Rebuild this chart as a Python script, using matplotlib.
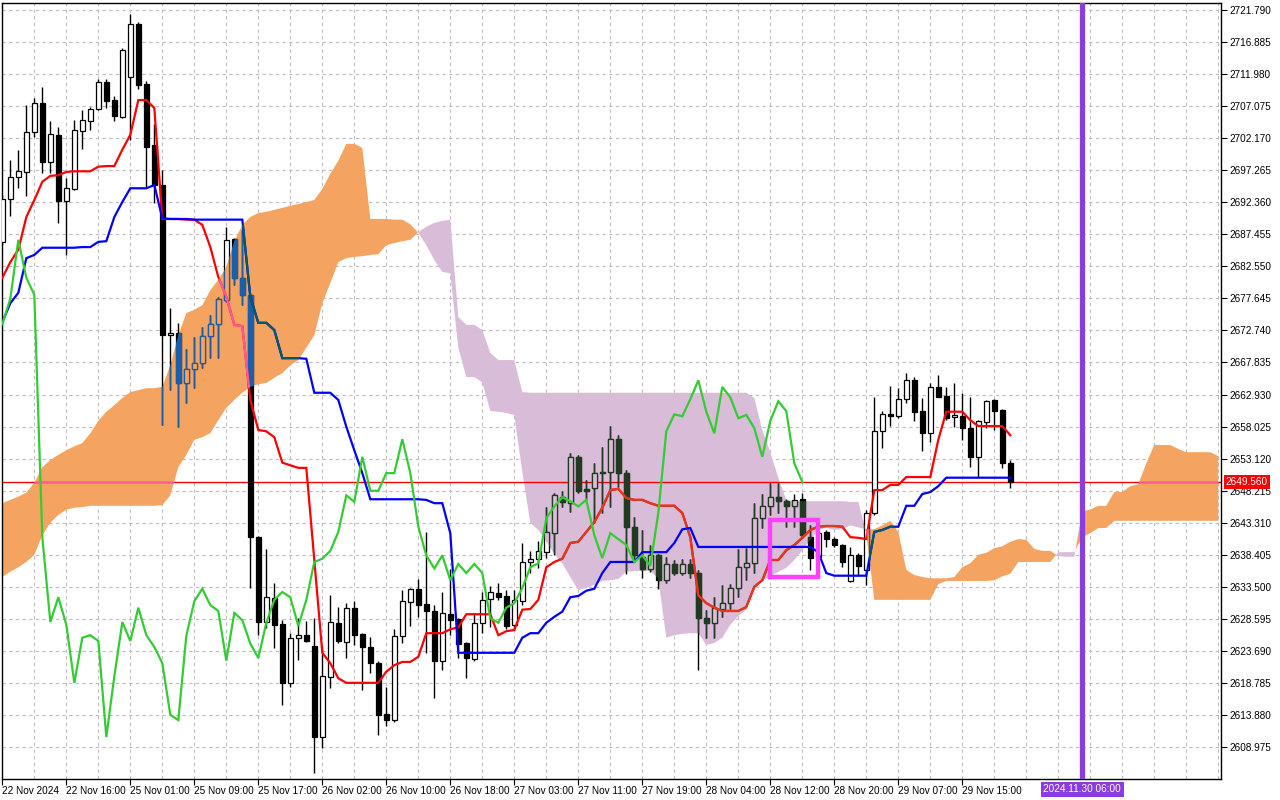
import numpy as np
import matplotlib
matplotlib.use("Agg")
import matplotlib.pyplot as plt
import matplotlib.transforms as mtransforms
from matplotlib.path import Path

# hourly XAUUSD candles, bar 0 = 22 Nov 2024 08:00
opens = [
    2686.3, 2692.9, 2696.2, 2697.0, 2703.1, 2707.5, 2698.5, 2702.6, 2692.6, 2694.4,
    2703.3, 2704.8, 2706.6, 2710.8, 2708.0, 2705.4, 2711.5, 2719.7, 2710.5, 2701.1,
    2695.0, 2672.0, 2672.4, 2664.7, 2666.8, 2667.8, 2671.9, 2673.7, 2677.4, 2686.7,
    2680.8, 2678.2, 2641.1, 2628.1, 2631.8, 2627.8, 2618.8, 2625.7, 2626.1, 2624.4,
    2610.5, 2619.7, 2628.0, 2625.1, 2630.3, 2626.3, 2624.3, 2621.9, 2614.0, 2613.1,
    2625.9, 2631.2, 2633.2, 2630.9, 2629.8, 2622.2, 2629.3, 2628.6, 2624.9, 2622.4,
    2628.0, 2631.6, 2632.6, 2632.1, 2627.7, 2631.3, 2637.3, 2637.8, 2638.8, 2641.7,
    2647.2, 2646.3, 2653.4, 2648.5, 2648.6, 2651.1, 2651.1, 2656.1, 2650.9, 2642.7,
    2638.0, 2636.3, 2638.3, 2634.5, 2637.0, 2635.6, 2637.0, 2635.6, 2628.7, 2628.0,
    2630.1, 2631.0, 2633.3, 2636.5, 2637.1, 2644.0, 2645.8, 2647.2, 2646.6, 2645.8,
    2646.9, 2641.1, 2638.1, 2641.9, 2640.8, 2639.9, 2634.4, 2638.3, 2636.1, 2644.8,
    2657.3, 2659.9, 2659.6, 2662.2, 2665.1, 2660.4, 2657.0, 2664.1, 2662.7, 2659.5,
    2659.6, 2657.8, 2653.4, 2658.7, 2662.1, 2660.6, 2652.4,
]
highs = [
    2693.5, 2698.8, 2700.4, 2707.2, 2708.3, 2710.0, 2704.8, 2703.9, 2696.1, 2705.0,
    2706.5, 2706.9, 2711.2, 2711.2, 2708.6, 2716.0, 2721.2, 2720.0, 2710.9, 2704.3,
    2697.3, 2676.2, 2673.9, 2669.9, 2671.7, 2673.3, 2675.1, 2677.9, 2688.6, 2686.9,
    2688.1, 2678.5, 2641.3, 2639.3, 2634.1, 2628.4, 2626.4, 2628.7, 2628.3, 2628.7,
    2624.4, 2632.2, 2630.4, 2631.0, 2631.3, 2626.4, 2625.8, 2622.1, 2618.2, 2627.0,
    2633.0, 2633.3, 2634.7, 2641.9, 2630.7, 2632.7, 2636.2, 2628.7, 2625.1, 2629.5,
    2632.7, 2633.6, 2634.1, 2633.0, 2633.0, 2640.2, 2639.0, 2640.5, 2645.7, 2647.9,
    2648.2, 2654.0, 2653.7, 2649.8, 2652.4, 2654.9, 2658.1, 2656.7, 2651.4, 2644.2,
    2642.2, 2639.9, 2638.5, 2638.0, 2637.6, 2637.8, 2637.8, 2636.1, 2629.9, 2631.9,
    2633.8, 2633.9, 2639.3, 2639.4, 2646.3, 2647.7, 2649.4, 2649.4, 2646.9, 2647.7,
    2647.9, 2642.9, 2642.2, 2642.2, 2641.1, 2640.1, 2639.6, 2638.6, 2645.3, 2662.5,
    2660.4, 2664.2, 2663.9, 2666.2, 2665.6, 2662.4, 2664.7, 2665.9, 2664.1, 2664.7,
    2663.2, 2662.5, 2659.0, 2662.1, 2662.2, 2660.7, 2652.9,
]
lows = [
    2685.8, 2690.3, 2694.5, 2693.3, 2702.3, 2696.8, 2696.8, 2689.2, 2684.3, 2694.2,
    2700.5, 2703.4, 2706.5, 2706.8, 2704.8, 2705.2, 2701.9, 2709.7, 2694.7, 2692.3,
    2658.3, 2663.6, 2658.0, 2661.6, 2664.0, 2667.0, 2668.5, 2668.5, 2677.1, 2679.7,
    2676.6, 2633.3, 2626.1, 2627.2, 2624.1, 2615.4, 2618.2, 2622.3, 2625.0, 2605.0,
    2608.8, 2618.0, 2624.9, 2622.6, 2624.6, 2617.7, 2620.3, 2610.8, 2612.2, 2612.8,
    2624.9, 2627.5, 2628.9, 2623.4, 2616.5, 2620.7, 2626.1, 2622.6, 2619.5, 2622.1,
    2626.4, 2627.3, 2631.5, 2627.0, 2626.9, 2630.7, 2635.6, 2636.4, 2637.9, 2638.3,
    2645.7, 2644.9, 2647.9, 2646.8, 2643.3, 2644.8, 2645.7, 2648.8, 2635.5, 2637.6,
    2634.9, 2635.8, 2633.2, 2634.1, 2635.3, 2635.3, 2634.9, 2620.7, 2625.7, 2625.7,
    2628.9, 2630.1, 2631.9, 2634.5, 2635.6, 2642.5, 2644.5, 2644.8, 2642.7, 2642.7,
    2641.0, 2636.1, 2637.6, 2639.6, 2639.6, 2636.6, 2634.2, 2635.2, 2633.8, 2644.5,
    2654.7, 2658.1, 2659.3, 2661.6, 2658.9, 2654.3, 2655.7, 2662.5, 2659.0, 2658.0,
    2656.0, 2651.8, 2650.3, 2657.8, 2657.5, 2651.7, 2648.6,
]
closes = [
    2692.9, 2696.2, 2697.1, 2703.1, 2707.5, 2698.5, 2702.8, 2692.6, 2694.5, 2703.4,
    2705.0, 2706.6, 2710.8, 2707.9, 2705.6, 2715.7, 2719.7, 2710.3, 2700.8, 2695.0,
    2672.0, 2672.4, 2664.7, 2666.8, 2667.8, 2671.9, 2673.7, 2677.6, 2686.6, 2680.8,
    2678.2, 2641.1, 2628.1, 2631.9, 2627.7, 2618.8, 2625.7, 2626.1, 2625.2, 2610.5,
    2619.8, 2628.1, 2625.2, 2630.3, 2626.1, 2624.3, 2621.8, 2613.9, 2613.1, 2626.0,
    2631.3, 2633.2, 2630.7, 2629.8, 2622.2, 2629.5, 2628.4, 2624.8, 2622.6, 2628.0,
    2631.5, 2632.7, 2631.9, 2627.5, 2631.5, 2637.3, 2637.8, 2639.0, 2641.9, 2647.5,
    2646.5, 2653.4, 2648.2, 2648.2, 2650.9, 2650.9, 2656.1, 2650.9, 2642.7, 2638.3,
    2636.3, 2638.3, 2634.5, 2637.0, 2635.6, 2637.0, 2635.6, 2628.7, 2628.0, 2630.3,
    2631.0, 2633.3, 2636.5, 2637.1, 2644.0, 2645.8, 2647.2, 2646.6, 2645.8, 2646.8,
    2641.4, 2637.9, 2641.7, 2640.8, 2639.9, 2637.3, 2638.3, 2636.7, 2644.8, 2657.3,
    2659.9, 2659.6, 2662.2, 2665.1, 2660.3, 2657.0, 2664.1, 2662.5, 2659.3, 2659.8,
    2657.8, 2653.4, 2658.9, 2661.9, 2660.4, 2652.4, 2649.56,
]

# Ichimoku (9, 26, 52)
tenkan = [
    2680.8, 2683.2, 2685.1, 2690.1, 2692.7, 2695.5, 2696.4, 2696.5, 2697.0, 2697.1,
    2697.1, 2697.1, 2697.8, 2697.9, 2697.9, 2700.4, 2702.7, 2708.0, 2708.0, 2706.8,
    2689.8, 2689.8, 2689.8, 2689.7, 2689.7, 2688.9, 2685.5, 2680.9, 2677.9, 2673.6,
    2673.4, 2662.1, 2657.5, 2657.3, 2656.4, 2652.5, 2652.1, 2651.7, 2651.7, 2637.6,
    2623.4, 2621.8, 2619.5, 2618.8, 2618.8, 2618.8, 2618.8, 2618.8, 2620.5, 2621.5,
    2622.0, 2622.0, 2622.8, 2626.4, 2626.4, 2626.4, 2627.0, 2627.3, 2629.3, 2629.3,
    2629.3, 2629.3, 2626.1, 2626.7, 2626.9, 2630.0, 2630.1, 2631.5, 2636.5, 2637.3,
    2637.8, 2640.2, 2640.4, 2641.9, 2643.4, 2645.6, 2648.3, 2648.5, 2647.1, 2646.8,
    2646.8, 2646.3, 2645.9, 2645.9, 2645.9, 2644.8, 2641.1, 2632.2, 2631.0, 2630.3,
    2629.8, 2629.8, 2629.8, 2630.4, 2633.5, 2634.5, 2637.6, 2637.6, 2639.1, 2639.9,
    2641.0, 2642.2, 2642.7, 2642.8, 2642.8, 2642.7, 2641.1, 2641.0, 2640.8, 2648.3,
    2648.3, 2649.1, 2649.1, 2650.3, 2650.3, 2650.3, 2650.3, 2656.0, 2660.3, 2660.3,
    2660.3, 2659.0, 2658.1, 2658.1, 2658.1, 2658.1, 2656.7,
]
kijun = [
    2674.0, 2676.9, 2678.5, 2683.8, 2684.3, 2685.4, 2685.4, 2685.4, 2685.4, 2685.4,
    2685.5, 2685.5, 2686.3, 2686.4, 2690.1, 2692.4, 2694.5, 2694.5, 2694.5, 2695.0,
    2689.9, 2689.8, 2689.8, 2689.8, 2689.7, 2689.7, 2689.7, 2689.7, 2689.7, 2689.7,
    2689.7, 2677.9, 2673.9, 2673.9, 2672.8, 2668.5, 2668.5, 2668.5, 2668.4, 2663.2,
    2663.2, 2663.2, 2662.1, 2658.0, 2654.4, 2650.9, 2646.9, 2646.9, 2646.9, 2646.9,
    2646.9, 2646.9, 2646.9, 2646.8, 2646.3, 2646.3, 2641.7, 2623.4, 2623.4, 2623.4,
    2623.4, 2623.4, 2623.4, 2623.4, 2623.4, 2625.7, 2626.4, 2626.4, 2628.0, 2628.9,
    2629.7, 2631.9, 2632.1, 2632.9, 2633.2, 2635.6, 2637.3, 2637.3, 2637.3, 2637.3,
    2638.8, 2638.8, 2638.8, 2638.8, 2640.2, 2642.3, 2642.5, 2639.6, 2639.6, 2639.6,
    2639.6, 2639.6, 2639.6, 2639.6, 2639.6, 2639.6, 2639.6, 2639.6, 2639.6, 2639.6,
    2639.6, 2639.6, 2638.8, 2635.6, 2635.2, 2635.2, 2635.2, 2635.2, 2635.2, 2641.9,
    2642.2, 2642.7, 2642.7, 2645.9, 2645.9, 2647.7, 2648.0, 2648.9, 2650.2, 2650.2,
    2650.2, 2650.2, 2650.2, 2650.2, 2650.2, 2650.2, 2650.2,
]
# senkou spans, already shifted 26 bars ahead (153 values)
span_a = [
    2646.3, 2646.8, 2647.3, 2647.9, 2649.4, 2651.8, 2652.9, 2653.7, 2654.4, 2655.0,
    2655.5, 2657.0, 2658.9, 2660.3, 2661.3, 2662.4, 2663.3, 2663.6, 2663.9, 2663.9,
    2664.1, 2667.4, 2672.0, 2675.4, 2675.9, 2676.6, 2678.9, 2680.5, 2682.4, 2686.4,
    2688.9, 2690.1, 2690.7, 2690.9, 2691.2, 2691.5, 2691.8, 2692.1, 2692.4, 2692.7,
    2694.4, 2696.7, 2698.7, 2701.3, 2701.3, 2700.7, 2689.8, 2689.8, 2689.8, 2689.7,
    2689.7, 2689.0, 2687.7, 2685.8, 2683.5, 2681.7, 2681.5, 2670.1, 2665.6, 2665.6,
    2664.8, 2660.4, 2660.3, 2660.1, 2659.8, 2651.1, 2643.3, 2642.2, 2640.5, 2638.5,
    2637.1, 2635.0, 2633.0, 2633.3, 2633.8, 2634.4, 2634.5, 2634.7, 2635.8, 2635.9,
    2635.9, 2635.9, 2634.8, 2625.7, 2626.1, 2626.3, 2626.4, 2626.4, 2624.6, 2624.9,
    2625.7, 2627.7, 2629.0, 2630.0, 2633.0, 2634.5, 2635.1, 2635.8, 2636.4, 2637.6,
    2639.1, 2640.7, 2642.2, 2642.5, 2642.2, 2642.3, 2642.9, 2642.6, 2642.3, 2642.3,
    2642.9, 2643.6, 2641.9, 2636.1, 2635.3, 2635.0, 2634.8, 2634.8, 2634.8, 2635.0,
    2636.5, 2637.1, 2638.4, 2638.7, 2639.4, 2639.7, 2640.4, 2640.8, 2640.7, 2639.3,
    2639.0, 2639.0, 2638.2, 2638.1, 2638.1, 2645.1, 2645.3, 2645.9, 2645.9, 2648.0,
    2648.0, 2648.9, 2649.2, 2652.4, 2655.2, 2655.2, 2655.2, 2654.6, 2654.1, 2654.1,
    2654.1, 2654.1, 2653.5,
]
span_b = [
    2635.0, 2635.8, 2636.5, 2637.3, 2638.4, 2641.4, 2643.3, 2644.5, 2645.3, 2645.6,
    2645.7, 2645.9, 2645.9, 2645.9, 2645.9, 2645.9, 2645.9, 2645.9, 2645.9, 2645.9,
    2646.0, 2647.5, 2651.8, 2653.7, 2656.0, 2656.4, 2657.0, 2659.0, 2660.9, 2662.1,
    2663.2, 2664.1, 2664.5, 2664.7, 2665.5, 2666.2, 2667.4, 2668.2, 2670.1, 2672.0,
    2676.9, 2680.0, 2683.2, 2683.8, 2684.0, 2684.1, 2684.3, 2684.4, 2685.8, 2686.1,
    2686.4, 2686.6, 2687.8, 2688.6, 2689.2, 2689.5, 2689.7, 2674.8, 2673.6, 2673.6,
    2672.8, 2669.3, 2668.2, 2668.2, 2668.2, 2663.3, 2663.2, 2663.2, 2663.2, 2663.2,
    2663.2, 2663.2, 2663.2, 2663.2, 2663.2, 2663.2, 2663.2, 2663.2, 2663.2, 2663.2,
    2663.2, 2663.2, 2663.2, 2663.2, 2663.2, 2663.2, 2663.2, 2663.2, 2663.2, 2663.2,
    2663.2, 2663.2, 2663.2, 2663.2, 2662.4, 2657.5, 2654.1, 2650.2, 2646.8, 2646.6,
    2646.6, 2646.6, 2646.6, 2646.6, 2646.6, 2646.6, 2646.5, 2646.5, 2641.7, 2631.5,
    2631.5, 2631.5, 2631.5, 2631.5, 2631.5, 2631.5, 2631.5, 2633.9, 2634.4, 2634.4,
    2634.4, 2634.4, 2634.4, 2634.4, 2634.5, 2635.1, 2635.5, 2637.3, 2637.3, 2637.3,
    2637.3, 2637.3, 2638.8, 2638.8, 2638.8, 2641.1, 2641.7, 2642.5, 2642.5, 2643.6,
    2643.6, 2643.6, 2643.6, 2643.6, 2643.6, 2643.6, 2643.6, 2643.6, 2643.6, 2643.6,
    2643.6, 2643.6, 2643.6,
]

time_labels = [
    "22 Nov 2024", "22 Nov 16:00", "25 Nov 01:00", "25 Nov 09:00", "25 Nov 17:00",
    "26 Nov 02:00", "26 Nov 10:00", "26 Nov 18:00", "27 Nov 03:00", "27 Nov 11:00",
    "27 Nov 19:00", "28 Nov 04:00", "28 Nov 12:00", "28 Nov 20:00", "29 Nov 07:00",
    "29 Nov 15:00",
]
label_bars = list(range(0, 121, 8))
price_ticks = [2721.790 - 4.905 * k for k in range(24)]

last_price = 2649.56
box_bars = (96, 102)
box_prices = (2635.0, 2643.8)
marker_bar = 135
marker_label = "2024.11.30 06:00"

SHIFT = 26
ORANGE = "#f4a460"
THISTLE = "#d8bcd8"
FONT = ["Liberation Sans", "DejaVu Sans"]

plt.rcParams["font.family"] = FONT

fig = plt.figure(figsize=(12.8, 8), dpi=100)
fig.patch.set_facecolor("white")
ax = fig.add_axes([2 / 1280, 21 / 800, 1219 / 1280, 776 / 800])
ax.set_xlim(-0.04, 152.34)
ax.set_ylim(2604.08, 2722.86)

# grid
ax.set_yticks(price_ticks)
ax.set_yticklabels([f"{p:.3f}" for p in price_ticks])
ax.set_xticks(label_bars)
ax.set_xticklabels(time_labels)
for p in price_ticks:
    ax.axhline(p, color="#c4b8c4", lw=0.8, ls=(0, (3, 3)), zorder=0)
for b in range(4, 153, 4):
    ax.axvline(b, color="#c4b8c4", lw=0.8, ls=(0, (3, 3)), zorder=0)

ax.yaxis.tick_right()
ax.tick_params(axis="y", direction="out", length=4, width=0.8,
               labelsize=7.2, pad=2)
ax.tick_params(axis="x", direction="out", length=4, width=0.8,
               labelsize=7.2, pad=1)
for lab in ax.get_xticklabels():
    lab.set_horizontalalignment("left")
for side in ax.spines.values():
    side.set_color("black")
    side.set_linewidth(1.0)

# cloud
cx = np.arange(len(span_a))
sa = np.array(span_a)
sb = np.array(span_b)
bull = ax.fill_between(cx, sa, sb, where=sa >= sb, interpolate=True,
                       color=ORANGE, lw=0, zorder=1)
bear = ax.fill_between(cx, sa, sb, where=sb > sa, interpolate=True,
                       color=THISTLE, lw=0, zorder=1)
bull_path = Path.make_compound_path(*bull.get_paths())
bear_path = Path.make_compound_path(*bear.get_paths())

bx = np.arange(len(closes))
o = np.array(opens)
c = np.array(closes)


def draw_candles(up_face, down_face, edge, z, clip=None):
    wicks = ax.vlines(bx, lows, highs, color=edge, lw=1.0, zorder=z)
    bottom = np.minimum(o, c)
    height = np.maximum(np.abs(c - o), 0.12)
    faces = [up_face if cc >= oo else down_face for oo, cc in zip(o, c)]
    bars = ax.bar(bx, height, bottom=bottom, width=0.56, color=faces,
                  edgecolor=edge, linewidth=0.9, zorder=z + 0.01)
    if clip is not None:
        wicks.set_clip_path(clip, ax.transData)
        for patch in bars:
            patch.set_clip_path(clip, ax.transData)


def draw_line(xs, ys, color, z, clip=None, lw=1.6):
    line, = ax.plot(xs, ys, color=color, lw=lw, zorder=z,
                    solid_joinstyle="miter")
    if clip is not None:
        line.set_clip_path(clip, ax.transData)


# candles take other colours where they cross the cloud, as in the terminal
draw_candles("white", "black", "black", 3)
draw_candles(ORANGE, "#1a5fa8", "#1a5fa8", 3.2, bull_path)
draw_candles(THISTLE, "#223a22", "#223a22", 3.2, bear_path)

chikou_x = bx[: len(closes) - SHIFT]
chikou_y = closes[SHIFT:]

draw_line(bx, tenkan, "#ff0000", 4)
draw_line(bx, tenkan, "#ff5a9a", 4.1, bull_path)
draw_line(bx, tenkan, "#dd3a1f", 4.1, bear_path)
draw_line(bx, kijun, "#0000ff", 4.2)
draw_line(bx, kijun, "#005a6a", 4.3, bull_path)
draw_line(chikou_x, chikou_y, "#32cd32", 4.4)

# current price line
ax.axhline(last_price, color="#ff0000", lw=1.0, zorder=2.5)
pl, = ax.plot([-1, 160], [last_price, last_price], color="#ff5a9a", lw=1.0,
              zorder=2.6)
pl.set_clip_path(bull_path, ax.transData)

# drawn rectangle object
ax.plot([box_bars[0], box_bars[1], box_bars[1], box_bars[0], box_bars[0]],
        [box_prices[0], box_prices[0], box_prices[1], box_prices[1], box_prices[0]],
        color="#ff40ff", lw=3.2, zorder=6, solid_joinstyle="miter")

# vertical time marker
ax.axvline(marker_bar, color="#8a3ce0", lw=3.8, zorder=6)

right = mtransforms.blended_transform_factory(ax.transAxes, ax.transData)
ax.text(1.004, last_price, f"{last_price:.3f}", transform=right, fontsize=7.2,
        color="white", va="center", ha="left", zorder=10, clip_on=False,
        bbox=dict(boxstyle="square,pad=0.2", fc="#ff0000", ec="none"))

bottom_tr = mtransforms.blended_transform_factory(ax.transData, ax.transAxes)
ax.text(marker_bar, -0.007, marker_label, transform=bottom_tr, fontsize=7.2,
        color="white", va="top", ha="center", zorder=10, clip_on=False,
        bbox=dict(boxstyle="square,pad=0.25", fc="#8a3ce0", ec="none"))

fig.savefig("out.png", dpi=100, facecolor="white")
